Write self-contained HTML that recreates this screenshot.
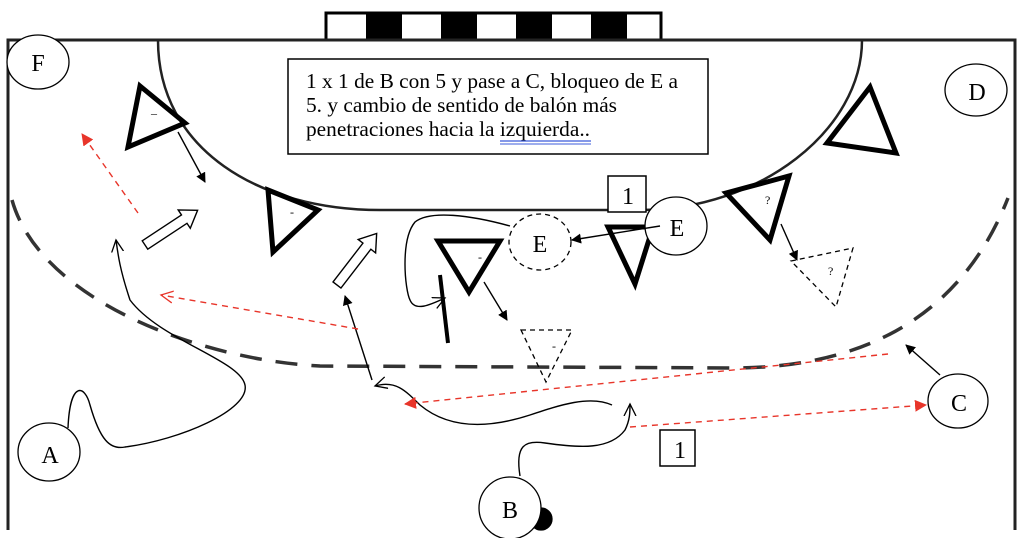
<!DOCTYPE html>
<html><head><meta charset="utf-8"><style>
html,body{margin:0;padding:0;background:#fff;}
svg{display:block;}
text{font-family:"Liberation Serif",serif;}
</style></head><body>
<svg width="1024" height="538" viewBox="0 0 1024 538" xmlns="http://www.w3.org/2000/svg">
<defs>
<marker id="ab" markerWidth="10" markerHeight="10" refX="9" refY="5" orient="auto" markerUnits="userSpaceOnUse"><path d="M0,0 L10,5 L0,10 z" fill="#000"/></marker>
<marker id="ao" markerWidth="14" markerHeight="14" refX="12" refY="7" orient="auto" markerUnits="userSpaceOnUse"><path d="M0,1 L12,7 L0,13" fill="none" stroke="#000" stroke-width="1.3"/></marker>
<marker id="ar" markerWidth="12" markerHeight="12" refX="11" refY="6" orient="auto" markerUnits="userSpaceOnUse"><path d="M0,0 L12,6 L0,12 z" fill="#e8352a"/></marker>
<marker id="aro" markerWidth="14" markerHeight="14" refX="12" refY="7" orient="auto" markerUnits="userSpaceOnUse"><path d="M0,1 L12,7 L0,13" fill="none" stroke="#e8352a" stroke-width="1.3"/></marker>
</defs>
<rect x="326" y="13" width="335" height="27" fill="#fff" stroke="#000" stroke-width="3"/>
<g fill="#000">
<rect x="366" y="14" width="36" height="25"/><rect x="441" y="14" width="36" height="25"/>
<rect x="516" y="14" width="36" height="25"/><rect x="591" y="14" width="36" height="25"/>
</g>
<path d="M8,530 L8,40 L1015,40 L1015,530" fill="none" stroke="#222" stroke-width="3"/>
<path d="M158,40 C158,150 260,210 380,210 L640,210 C760,210 862,130 862,40" fill="none" stroke="#222" stroke-width="2.5"/>
<path d="M12,200 C40,300 200,360 320,366 L740,368 C860,366 960,320 1008,198" fill="none" stroke="#333" stroke-width="3.5" stroke-dasharray="22,14"/>
<rect x="288" y="59" width="420" height="95" fill="#fff" stroke="#000" stroke-width="1.5"/>
<text font-size="21.5" fill="#000"><tspan x="306" y="88" textLength="372" lengthAdjust="spacingAndGlyphs">1 x 1 de B con 5 y pase a C, bloqueo de E a</tspan><tspan x="306" y="112" textLength="311" lengthAdjust="spacingAndGlyphs">5. y cambio de sentido de balón más</tspan><tspan x="306" y="136" textLength="284" lengthAdjust="spacingAndGlyphs">penetraciones hacia la izquierda..</tspan></text>
<line x1="500" y1="141" x2="591" y2="141" stroke="#3b5bdb" stroke-width="1.2"/>
<line x1="500" y1="144" x2="591" y2="144" stroke="#3b5bdb" stroke-width="1"/>
<g fill="none" stroke="#000" stroke-width="5" stroke-linejoin="miter">
<polygon points="140,86 185,123 128,147"/>
<polygon points="268,190 318,210 273,252"/>
<polygon points="438,241 500,241 469,292"/>
<polygon points="608,227 653,227 635,284"/>
<polygon points="726,193 789,176 770,240"/>
<polygon points="827,143 870,87 896,153"/>
</g>
<g fill="none" stroke="#000" stroke-width="1.3" stroke-dasharray="5,4">
<polygon points="791,261 853,248 836,307"/>
<polygon points="521,330 572,330 546,382"/>
</g>
<g font-size="12" fill="#000"><text x="151" y="117">–</text><text x="290" y="216">-</text><text x="478" y="261">-</text><text x="765" y="204">?</text><text x="828" y="275">?</text><text x="552" y="350">-</text></g>
<g fill="#fff" stroke="#000" stroke-width="1.3">
<ellipse cx="38" cy="62" rx="31" ry="27"/>
<ellipse cx="976" cy="90" rx="31" ry="26"/>
<ellipse cx="540" cy="242" rx="31" ry="28" stroke-dasharray="5,4"/>
<circle cx="541" cy="519" r="11" fill="#000"/>
<ellipse cx="676" cy="226" rx="31" ry="29"/>
<ellipse cx="958" cy="401" rx="30" ry="27"/>
<ellipse cx="49" cy="452" rx="31" ry="29"/>
<ellipse cx="510" cy="508" rx="31" ry="31"/>
</g>
<g font-size="24" fill="#000" text-anchor="middle">
<text x="38" y="71">F</text><text x="977" y="100">D</text><text x="540" y="252">E</text>
<text x="677" y="236">E</text><text x="959" y="411">C</text><text x="50" y="463">A</text><text x="510" y="518">B</text>
</g>
<rect x="608" y="176" width="38" height="36" fill="#fff" stroke="#000" stroke-width="1.5"/>
<text x="628" y="204" font-size="24" text-anchor="middle">1</text>
<rect x="660" y="430" width="35" height="36" fill="#fff" stroke="#000" stroke-width="1.5"/>
<text x="680" y="458" font-size="24" text-anchor="middle">1</text>
<line x1="440" y1="275" x2="448" y2="343" stroke="#000" stroke-width="4"/>
<g fill="none" stroke="#000" stroke-width="1.4">
<line x1="178" y1="132" x2="205" y2="182" marker-end="url(#ab)"/>
<line x1="484" y1="282" x2="507" y2="320" marker-end="url(#ab)"/>
<line x1="781" y1="224" x2="797" y2="260" marker-end="url(#ab)"/>
<line x1="660" y1="226" x2="572" y2="240" marker-end="url(#ab)"/>
<line x1="940" y1="375" x2="906" y2="345" marker-end="url(#ab)"/>
<line x1="372" y1="380" x2="345" y2="296" marker-end="url(#ab)"/>
<path d="M68,428 C70,380 85,385 90,405 C100,440 110,450 125,447 C180,440 250,410 245,385 C240,360 160,340 130,300 C120,270 118,255 116,240" marker-end="url(#ao)"/>
<path d="M520,476 C515,445 525,440 545,443 C580,448 610,450 625,430 C630,420 630,412 630,404" marker-end="url(#ao)"/>
<path d="M612,405 C590,395 560,405 530,415 C490,428 450,430 420,405 C405,390 395,380 375,386" marker-end="url(#ao)"/>
<path d="M510,226 C470,215 430,210 415,222 C400,240 405,290 410,300 C415,312 430,305 445,298" marker-end="url(#ao)"/>
</g>
<path d="M0,-5 L47,-5 L47,-11 L63,0 L47,11 L47,5 L0,5 Z" fill="#fff" stroke="#000" stroke-width="1.4" transform="translate(145,245) rotate(-33.4)"/>
<path d="M0,-5 L49,-5 L49,-11 L65,0 L49,11 L49,5 L0,5 Z" fill="#fff" stroke="#000" stroke-width="1.4" transform="translate(337,285) rotate(-52.4)"/>
<g fill="none" stroke="#e8352a" stroke-width="1.4" stroke-dasharray="6,5">
<line x1="138" y1="213" x2="82" y2="134" marker-end="url(#ar)"/>
<line x1="358" y1="329" x2="161" y2="295" marker-end="url(#aro)"/>
<line x1="888" y1="354" x2="405" y2="404" marker-end="url(#ar)"/>
<line x1="630" y1="427" x2="926" y2="405" marker-end="url(#ar)"/>
</g>
</svg>
</body></html>
